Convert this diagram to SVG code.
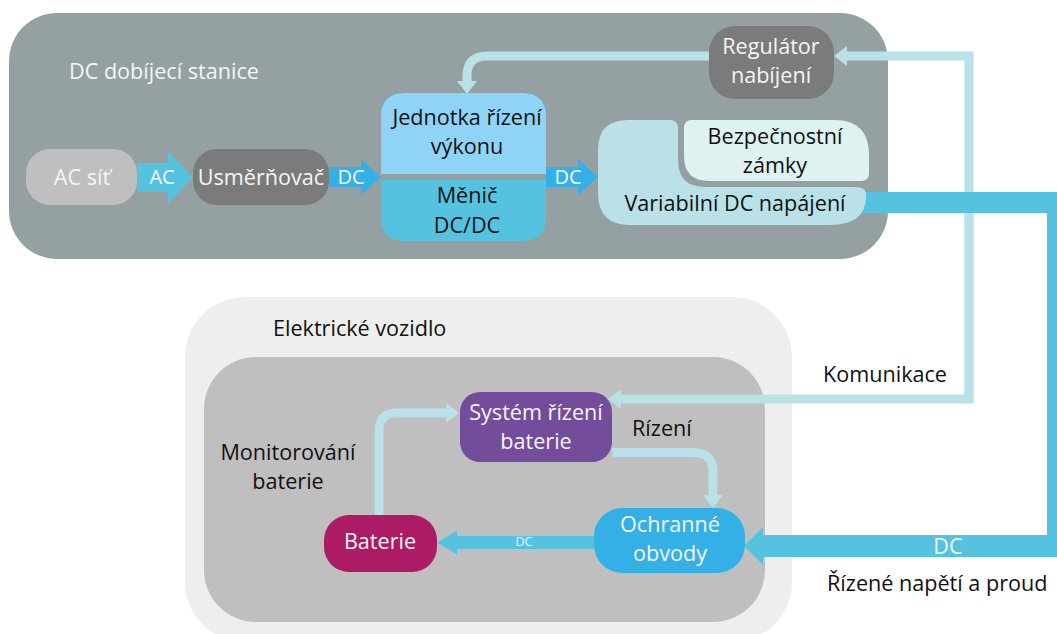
<svg xmlns="http://www.w3.org/2000/svg" width="1057" height="634" viewBox="0 0 1057 634">
<style>
text{font-family:"Open Sans","Noto Sans","Liberation Sans",sans-serif;font-size:21.6px;text-anchor:middle}
.d{fill:#111}
.w{fill:#f4f6f7}
.s{text-anchor:start}
.l{fill:none;stroke:#b9e1e7;stroke-width:9}
.c{fill:none;stroke:#55c3e0}
.b{fill:none;stroke:#35b0e6;stroke-width:20}
.m{font-size:20px}
</style>
<defs>
<marker id="hl" markerUnits="userSpaceOnUse" viewBox="0 -10 13 20" refX="0" refY="0" markerWidth="13" markerHeight="20" orient="auto"><path d="M0-10L13 0L0 10Z" fill="#b9e1e7"/></marker>
<marker id="hac" markerUnits="userSpaceOnUse" viewBox="0 -26 25 52" refX="0" refY="0" markerWidth="25" markerHeight="52" orient="auto"><path d="M0-26L25 0L0 26Z" fill="#55c3e0"/></marker>
<marker id="hdc" markerUnits="userSpaceOnUse" viewBox="0 -18 20 36" refX="0" refY="0" markerWidth="20" markerHeight="36" orient="auto"><path d="M0-18L20 0L0 18Z" fill="#35b0e6"/></marker>
<marker id="hs" markerUnits="userSpaceOnUse" viewBox="0 -12 20 24" refX="0" refY="0" markerWidth="20" markerHeight="24" orient="auto"><path d="M0-12L20 0L0 12Z" fill="#55c3e0"/></marker>
<marker id="hb" markerUnits="userSpaceOnUse" viewBox="0 -19 19 38" refX="0" refY="0" markerWidth="19" markerHeight="38" orient="auto"><path d="M0-19L19 0L0 19Z" fill="#55c3e0"/></marker>
</defs>
<rect width="1057" height="634" fill="#fff"/>
<g id="station"><rect x="9" y="13" width="879" height="246" rx="48" fill="#95a0a2"/><text class="w s" x="69" y="79">DC dobíjecí stanice</text></g>
<g id="vehicle"><rect x="185" y="297" width="607" height="345" rx="60" fill="#eeeeee"/><rect x="204" y="357" width="561" height="265" rx="52" fill="#bfbfbf"/><text class="d s" x="273" y="336">Elektrické vozidlo</text></g>
<g id="connectors">
<path class="l" d="M709 56H487Q467 56 467 76V81" marker-end="url(#hl)"/>
<path class="l" d="M969 399V56H847" marker-end="url(#hl)"/>
<path class="l" d="M969 200V399H621" marker-end="url(#hl)"/>
<path class="c" stroke-width="29" d="M137 177.500H168" marker-end="url(#hac)"/>
<path class="b" d="M329 177H361" marker-end="url(#hdc)"/>
<path class="b" d="M546 177H578" marker-end="url(#hdc)"/>
<path class="c" stroke-width="21" d="M860 202.500H1057"/>
<path class="c" stroke-width="10" d="M1052 192V557"/>
<path class="c" stroke-width="22" d="M1057 546H763" marker-end="url(#hb)"/>
<path class="c" stroke-width="13" d="M594 542.500H457" marker-end="url(#hs)"/>
<path class="l" d="M379 515V431Q379 413 397 413H446" marker-end="url(#hl)"/>
<path class="l" d="M612 452.500H693Q713 452.500 713 472V495" marker-end="url(#hl)"/>
<text class="w m" x="162" y="184">AC</text>
<text class="w m" x="351" y="184">DC</text>
<text class="w m" x="568" y="184">DC</text>
<text class="w" x="948" y="554">DC</text>
<text class="w" x="524" y="546" style="font-size:12.500px">DC</text>
</g>
<g id="ac"><rect x="26" y="149" width="111" height="56" rx="24" fill="#bfbfbf"/><text class="w" x="82" y="185">AC síť</text></g>
<g id="rectifier"><rect x="193" y="149" width="136" height="56" rx="24" fill="#7b7b7b"/><text class="w" x="261" y="185">Usměrňovač</text></g>
<g id="power-control"><path d="M405 93H522Q546 93 546 117V174H381V117Q381 93 405 93Z" fill="#8fd3f7"/><text class="d" x="467" y="125">Jednotka řízení</text><text class="d" x="467" y="154">výkonu</text></g>
<g id="converter"><path d="M381 180H546V218Q546 241 522 241H405Q381 241 381 218Z" fill="#55c3e0"/><text class="d" x="467" y="203">Měnič</text><text class="d" x="467" y="233">DC/DC</text></g>
<g id="regulator"><rect x="709" y="26" width="125" height="73" rx="26" fill="#7b7b7b"/><text class="w" x="771" y="54">Regulátor</text><text class="w" x="771" y="83">nabíjení</text></g>
<g id="variable"><path d="M628 120H670Q678 120 678 128V160Q678 187 705 187H855Q865 187 866 193Q868 225 830 225H630Q598 225 598 193V150Q598 120 628 120Z" fill="#b9e1e7"/><text class="d" x="735" y="211">Variabilní DC napájení</text></g>
<g id="locks"><path d="M692 120H834Q869 120 869 155V173Q869 181 861 181H709Q684 181 684 156V128Q684 120 692 120Z" fill="#dff2f2"/><text class="d" x="775" y="144">Bezpečnostní</text><text class="d" x="775" y="173">zámky</text></g>
<g id="bms"><rect x="460" y="392" width="152" height="70" rx="20" fill="#744c9c"/><text class="w" x="536" y="420">Systém řízení</text><text class="w" x="536" y="449">baterie</text></g>
<g id="protection"><rect x="594" y="508" width="151" height="65" rx="28" fill="#35b0e6"/><text class="w" x="670" y="532">Ochranné</text><text class="w" x="670" y="561">obvody</text></g>
<g id="battery"><rect x="324" y="515" width="113" height="57" rx="25" fill="#ac1c64"/><text class="w" x="380" y="549">Baterie</text></g>
<g id="labels">
<text class="d" x="288" y="460">Monitorování</text><text class="d" x="288" y="489">baterie</text>
<text class="d s" x="632" y="436">Rízení</text>
<text class="d s" x="823" y="382">Komunikace</text>
<text class="d s" x="827" y="591">Řízené napětí a proud</text>
</g>
</svg>
